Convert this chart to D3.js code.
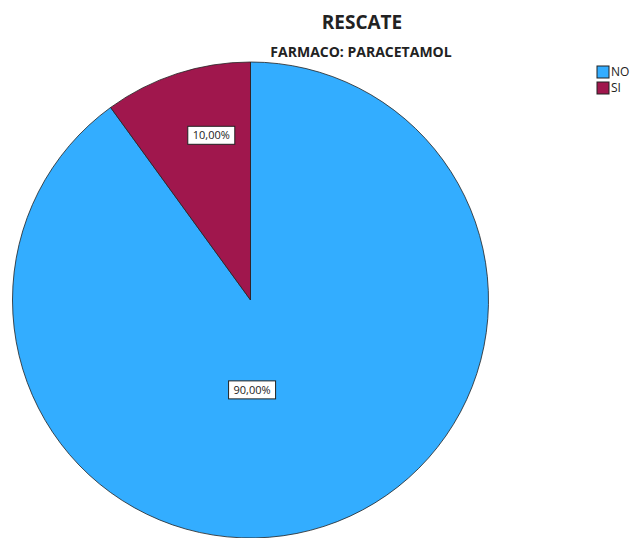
<!DOCTYPE html>
<html>
<head>
<meta charset="utf-8">
<script src="https://cdn.jsdelivr.net/npm/d3@7"></script>
<style>
  body { margin: 0; background: #fff; overflow: hidden; }
  text { font-family: "Open Sans", "DejaVu Sans", sans-serif; }
</style>
</head>
<body>
<div id="chart"></div>
<script>
// Data
var categories = ["NO", "SI"];
var percents = [90, 10];
var sliceColors = ["#33adff", "#a0174d"];

var svgWidth = 633,
    svgHeight = 538;

var svg = d3.select("#chart")
  .append("svg")
    .attr("width", svgWidth)
    .attr("height", svgHeight);

// Titles
svg.append("text")
  .attr("x", 362)
  .attr("y", 29)
  .attr("text-anchor", "middle")
  .attr("font-size", "19px")
  .attr("font-weight", "bold")
  .attr("fill", "#222")
  .text("RESCATE");

svg.append("text")
  .attr("x", 361)
  .attr("y", 57)
  .attr("text-anchor", "middle")
  .attr("font-size", "14px")
  .attr("font-weight", "bold")
  .attr("fill", "#222")
  .text("FARMACO: PARACETAMOL");

// Pie
var radius = 238;
var pieGroup = svg.append("g")
  .attr("transform", "translate(250.5, 300)");

var pie = d3.pie().sort(null).value(d => d.value);
var arc = d3.arc().innerRadius(0).outerRadius(radius);

var pieData = pie(categories.map((c, i) => ({name: c, value: percents[i], color: sliceColors[i]})));

pieGroup.selectAll("path")
  .data(pieData)
  .enter()
  .append("path")
    .attr("d", arc)
    .attr("fill", d => d.data.color)
    .attr("stroke", "#222")
    .attr("stroke-width", 0.8);

// Slice labels
var labelRadius = {NO: radius * 0.375, SI: radius * 0.71};
var labels = pieGroup.selectAll(".slabel")
  .data(pieData)
  .enter()
  .append("g")
    .attr("class", "slabel")
    .attr("transform", function(d) {
      var r = labelRadius[d.data.name];
      var c = d3.arc().innerRadius(r).outerRadius(r).centroid(d);
      if (d.data.name === "NO") c[0] -= 26, c[1] += 5;
      if (d.data.name === "SI") c[0] += 13, c[1] -= 4;
      return `translate(${c[0]}, ${c[1]})`;
    });

labels.append("rect")
  .attr("x", -23.5)
  .attr("y", -9)
  .attr("width", 47)
  .attr("height", 18)
  .attr("fill", "#fff")
  .attr("stroke", "#222")
  .attr("stroke-width", 1);

labels.append("text")
  .attr("text-anchor", "middle")
  .attr("dy", "0.35em")
  .attr("font-size", "11px")
  .attr("fill", "#222")
  .text(d => d3.format(".2f")(d.data.value).replace(".", ",") + "%");

// Legend
var legend = svg.append("g")
  .attr("transform", "translate(597, 66)");

var items = legend.selectAll("g")
  .data(categories)
  .enter()
  .append("g")
    .attr("transform", (d, i) => `translate(0, ${i * 16})`);

items.append("rect")
  .attr("width", 12)
  .attr("height", 12)
  .attr("fill", (d, i) => sliceColors[i])
  .attr("stroke", "#222")
  .attr("stroke-width", 1);

items.append("text")
  .attr("x", 14)
  .attr("y", 6)
  .attr("dy", "0.35em")
  .attr("font-size", "12px")
  .attr("fill", "#222")
  .text(d => d);
</script>
</body>
</html>
